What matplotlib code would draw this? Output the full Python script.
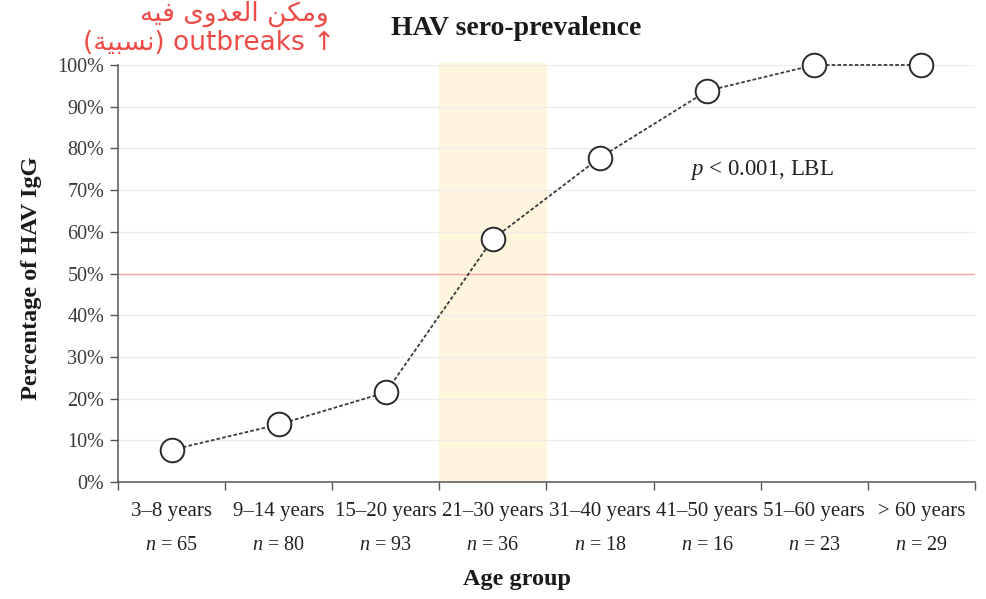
import matplotlib
matplotlib.use("Agg")
import matplotlib.pyplot as plt

categories = ["3–8 years", "9–14 years", "15–20 years", "21–30 years",
              "31–40 years", "41–50 years", "51–60 years", "> 60 years"]
n_values = [65, 80, 93, 36, 18, 16, 23, 29]
prevalence = [7.7, 13.8, 21.5, 58.3, 77.8, 93.8, 100, 100]
yticks = [0, 10, 20, 30, 40, 50, 60, 70, 80, 90, 100]
highlight_index = 3
threshold = 50

plt.rcParams['font.family'] = ['Liberation Serif', 'DejaVu Serif']
plt.rcParams['mathtext.fontset'] = 'custom'
plt.rcParams['mathtext.it'] = 'Liberation Serif:italic'
plt.rcParams['mathtext.rm'] = 'Liberation Serif'

fig = plt.figure(figsize=(9.86, 5.99), dpi=100)
ax = fig.add_axes([0.1197, 0.1953, 0.8691, 0.6962])

x = list(range(len(categories)))
ax.set_xlim(-0.5, len(categories) - 0.5)
ax.set_ylim(0, 100)

# highlight band
ax.axvspan(highlight_index - 0.5, highlight_index + 0.5, ymin=0, ymax=1.005,
           color='#FFF5DC', zorder=0, clip_on=False)
for t in yticks[1:]:
    ax.axhline(t, color='#ececec', lw=0.9, zorder=0.5)
ax.axhline(threshold, color='#F2A9A2', lw=1.0, zorder=0.6)

ax.plot(x, prevalence, linestyle=(0, (2.0, 1.2)), color='#3a3a3a', lw=1.3,
        marker='o', markersize=17, markerfacecolor='white',
        markeredgecolor='#2a2a2a', markeredgewidth=1.4, zorder=3, clip_on=False)

ax.set_yticks(yticks)
ax.set_yticklabels([f"{t}%" for t in yticks], fontsize=14.5, color='#3a3a3a')
ax.set_xticks([i - 0.5 for i in range(len(categories) + 1)])
ax.set_xticklabels([])
ax.tick_params(axis='both', direction='out', length=6, width=1.0, color='#555555')
ax.tick_params(axis='y', pad=4)

for s in ['top', 'right']:
    ax.spines[s].set_visible(False)
for s in ['left', 'bottom']:
    ax.spines[s].set_color('#555555')
    ax.spines[s].set_linewidth(1.1)

for i, (c, nv) in enumerate(zip(categories, n_values)):
    ax.text(i, -7.0, c, ha='center', va='center', fontsize=15, color='#222222',
            clip_on=False)
    ax.text(i, -15.3, f"$n$ = {nv}", ha='center', va='center', fontsize=14.5,
            color='#222222', clip_on=False)

ax.text(5.51, 74.8, "$p$ < 0.001, LBL", ha='center', va='center', fontsize=16.5,
        color='#222222')

fig.text(0.524, 0.952, "HAV sero-prevalence", ha='center', va='center',
         fontsize=20, fontweight='bold', color='#1a1a1a')
fig.text(0.524, 0.033, "Age group", ha='center', va='center',
         fontsize=17.5, fontweight='bold', color='#1a1a1a')
fig.text(0.032, 0.535, "Percentage of HAV IgG", ha='center', va='center',
         rotation=90, fontsize=17.5, fontweight='bold', color='#1a1a1a')

# handwritten red annotation (Arabic in presentation forms, visual order)
red = '#EE4B47'
fig.text(0.238, 0.977, "ﻪﻴﻓ ﻯﻭﺪﻌﻟﺍ ﻦﻜﻣﻭ", ha='center', va='center',
         fontsize=19, color=red, family=['DejaVu Sans'])
fig.text(0.212, 0.928, "(ﺔﻴﺒﺴﻧ) outbreaks ↑", ha='center', va='center',
         fontsize=19, color=red, family=['DejaVu Sans'])

fig.savefig("out.png", dpi=100)
